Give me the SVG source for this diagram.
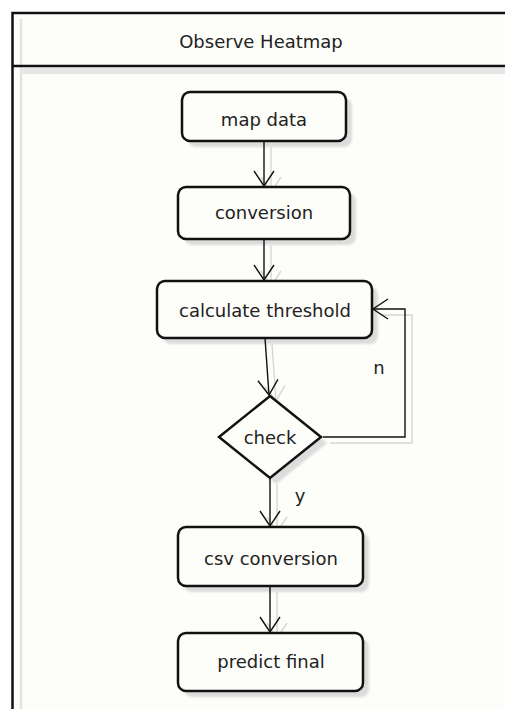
<svg xmlns="http://www.w3.org/2000/svg" width="505" height="709" viewBox="0 0 505 709">
  <style>
    .lane { fill: #fdfdf9; stroke: #111; stroke-width: 2.5; }
    .node { fill: #fdfdf9; stroke: #111; stroke-width: 2.5; }
    .shadow { fill: #dcdcdc; filter: url(#soft); }
    .label { font-family: "DejaVu Sans", "Liberation Sans", sans-serif; font-size: 18px; fill: #222; text-anchor: middle; }
    .edge { fill: none; stroke: #111; stroke-width: 1.4; }
    .ghost { fill: none; stroke: #d6d6d6; stroke-width: 1.4; }
  </style>
  <defs>
    <filter id="soft" x="-10%" y="-10%" width="120%" height="130%">
      <feGaussianBlur stdDeviation="1"/>
    </filter>
    <marker id="open" markerWidth="18" markerHeight="22" refX="16" refY="11" orient="auto" markerUnits="userSpaceOnUse">
      <path d="M1,1 L16,11 L1,21" fill="none" stroke="#111" stroke-width="1.4"/>
    </marker>
    <marker id="openGhost" markerWidth="18" markerHeight="22" refX="16" refY="11" orient="auto" markerUnits="userSpaceOnUse">
      <path d="M1,1 L16,11 L1,21" fill="none" stroke="#d6d6d6" stroke-width="1.4"/>
    </marker>
  </defs>

  <rect width="505" height="709" fill="#ffffff"/>

  <!-- swimlane -->
  <g id="lane">
    <rect class="lane" x="12.5" y="13" width="510" height="710"/>
    <line x1="21" y1="19" x2="21" y2="709" stroke="#e2e2e2" stroke-width="2.5"/>
    <rect x="20" y="68" width="490" height="6" fill="#e6e6e6"/>
    <line x1="12.5" y1="66" x2="505" y2="66" stroke="#111" stroke-width="2.5"/>
    <text class="label" x="261" y="48">Observe Heatmap</text>
  </g>

  <!-- connector shadows -->
  <g id="connector-shadows" transform="translate(7,6)">
    <line class="ghost" x1="264" y1="141" x2="264" y2="186" marker-end="url(#openGhost)"/>
    <line class="ghost" x1="264" y1="239" x2="264" y2="280" marker-end="url(#openGhost)"/>
    <line class="ghost" x1="265" y1="338" x2="269" y2="395" marker-end="url(#openGhost)"/>
    <polyline class="ghost" points="323,437 405,437 405,309 373,309"/>
    <line class="ghost" x1="270" y1="478" x2="270" y2="526" marker-end="url(#openGhost)"/>
    <line class="ghost" x1="270" y1="586" x2="270" y2="632" marker-end="url(#openGhost)"/>
  </g>

  <!-- node shadows -->
  <g id="node-shadows">
    <rect class="shadow" x="188" y="98" width="164" height="49" rx="8"/>
    <rect class="shadow" x="184" y="193" width="172" height="52" rx="8"/>
    <rect class="shadow" x="163" y="287" width="215" height="57" rx="8"/>
    <polygon class="shadow" points="276,402 327,443 276,484 225,443"/>
    <rect class="shadow" x="184" y="533" width="185" height="59" rx="8"/>
    <rect class="shadow" x="184" y="639" width="185" height="58" rx="8"/>
  </g>

  <!-- connectors -->
  <g id="connectors">
    <line class="edge" x1="264" y1="141" x2="264" y2="186" marker-end="url(#open)"/>
    <line class="edge" x1="264" y1="239" x2="264" y2="280" marker-end="url(#open)"/>
    <line class="edge" x1="265" y1="338" x2="269" y2="395" marker-end="url(#open)"/>
    <polyline class="edge" points="323,437 405,437 405,309 373,309" marker-end="url(#open)"/>
    <line class="edge" x1="270" y1="478" x2="270" y2="526" marker-end="url(#open)"/>
    <line class="edge" x1="270" y1="586" x2="270" y2="632" marker-end="url(#open)"/>
    <text class="label" x="379" y="374">n</text>
    <text class="label" x="300" y="502">y</text>
  </g>

  <g id="map-data">
    <rect class="node" x="182" y="92" width="164" height="49" rx="8"/>
    <text class="label" x="264" y="126">map data</text>
  </g>
  <g id="conversion">
    <rect class="node" x="178" y="187" width="172" height="52" rx="8"/>
    <text class="label" x="264" y="219">conversion</text>
  </g>
  <g id="calculate-threshold">
    <rect class="node" x="157" y="281" width="215" height="57" rx="8"/>
    <text class="label" x="265" y="317">calculate threshold</text>
  </g>
  <g id="check">
    <polygon class="node" points="270,396 321,437 270,478 219,437"/>
    <text class="label" x="270" y="444">check</text>
  </g>
  <g id="csv-conversion">
    <rect class="node" x="178" y="527" width="185" height="59" rx="8"/>
    <text class="label" x="271" y="565">csv conversion</text>
  </g>
  <g id="predict-final">
    <rect class="node" x="178" y="633" width="185" height="58" rx="8"/>
    <text class="label" x="271" y="668">predict final</text>
  </g>
</svg>
